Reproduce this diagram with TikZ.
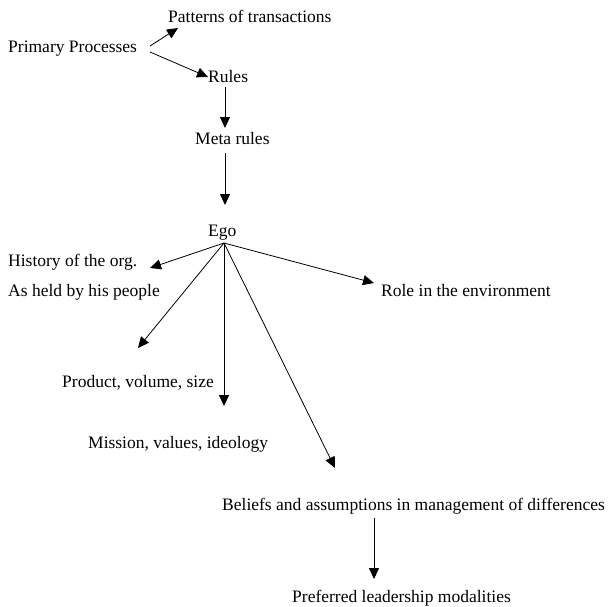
\documentclass[tikz,border=0pt]{standalone}
\usepackage{fontspec}
\setmainfont{Liberation Serif}
\usetikzlibrary{arrows.meta}
\begin{document}
\begin{tikzpicture}[x=1pt,y=-1pt,
  lbl/.style={inner sep=0pt,anchor=base west,font=\fontsize{17.5}{21}\selectfont},
  arr/.style={line width=0.8pt,-{Triangle[length=11pt,width=10pt]}}]
\useasboundingbox (0,0) rectangle (609,606);
\node[lbl] (pat) at (168,22) {Patterns of transactions};
\node[lbl] (pri) at (8,52) {Primary Processes};
\node[lbl] (rul) at (208,82.5) {Rules};
\node[lbl] (met) at (195,144) {Meta rules};
\node[lbl] (ego) at (208,236) {Ego};
\node[lbl] (his) at (8,266.5) {History of the org.};
\node[lbl] (ash) at (8,296.5) {As held by his people};
\node[lbl] (pro) at (62,387) {Product, volume, size};
\node[lbl] (mis) at (88,448) {Mission, values, ideology};
\node[lbl] (rol) at (381,296.5) {Role in the environment};
\node[lbl] (bel) at (222,510) {Beliefs and assumptions in management of differences};
\node[lbl] (pre) at (292,602) {Preferred leadership modalities};
% connector end points
\coordinate (p1) at (150,46);
\coordinate (p2) at (150,52);
\coordinate (tpat) at (178,28);
\coordinate (trul) at (208,77);
\coordinate (r0) at (225,87);
\coordinate (tmet) at (225,128);
\coordinate (m0) at (225,153);
\coordinate (tego) at (225,205);
\coordinate (apex) at (224,243);
\coordinate (this) at (150,268);
\coordinate (tash) at (138,348);
\coordinate (tpro) at (224,406);
\coordinate (tbel) at (335,468);
\coordinate (trol) at (374,283);
\coordinate (b0) at (374,518);
\coordinate (tpre) at (374,579);
\draw[arr] (p1) -- (tpat);
\draw[arr] (p2) -- (trul);
\draw[arr] (r0) -- (tmet);
\draw[arr] (m0) -- (tego);
\draw[arr] (apex) -- (this);
\draw[arr] (apex) -- (tash);
\draw[arr] (apex) -- (tpro);
\draw[arr] (apex) -- (tbel);
\draw[arr] (apex) -- (trol);
\draw[arr] (b0) -- (tpre);
\end{tikzpicture}
\end{document}
